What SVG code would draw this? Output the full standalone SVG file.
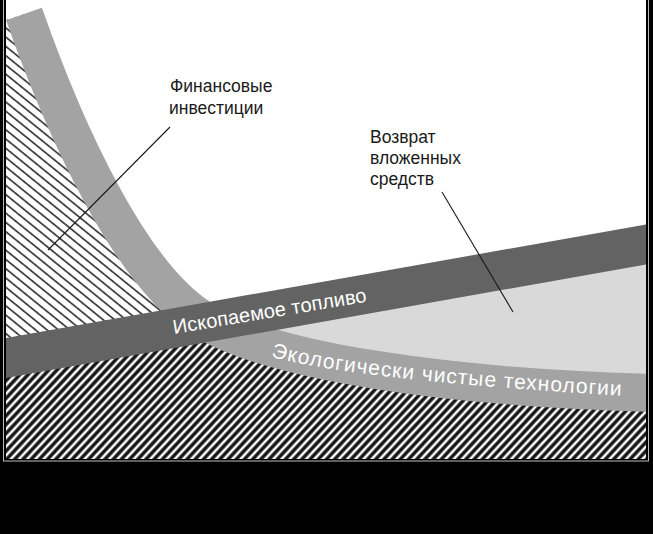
<svg xmlns="http://www.w3.org/2000/svg" width="653" height="534" viewBox="0 0 653 534">
  <defs>
    <style>
      .label { font-family: "Liberation Sans", Arial, sans-serif; font-size: 17.5px; fill: #1a1a1a; }
      .bandtext { font-family: "Liberation Sans", Arial, sans-serif; fill: #fff; }
      .leader { stroke: #1a1a1a; stroke-width: 1.1; fill: none; }
    </style>
    <clipPath id="plot">
      <rect x="6" y="0" width="640" height="459"/>
    </clipPath>
    <pattern id="thinHatch" patternUnits="userSpaceOnUse" width="10" height="7.2" patternTransform="rotate(39)">
      <rect width="10" height="7.2" fill="#fff"/>
      <line x1="-1" y1="3.6" x2="11" y2="3.6" stroke="#111" stroke-width="1.4"/>
    </pattern>
    <pattern id="boldHatch" patternUnits="userSpaceOnUse" width="10" height="6" patternTransform="rotate(-47)">
      <rect width="10" height="6" fill="#111"/>
      <line x1="-1" y1="3" x2="11" y2="3" stroke="#fff" stroke-width="2.6"/>
    </pattern>
    <path id="ecoPath" d="M 271,357 C 340,374 450,386 660,398"/>
  </defs>

  <rect x="0" y="0" width="653" height="534" fill="#000"/>
  <rect x="3.5" y="-1" width="645" height="462" fill="none" stroke="#bdbdbd" stroke-width="1"/>
  <rect x="6" y="0" width="640" height="459" fill="#fff"/>

  <g clip-path="url(#plot)">
    <g id="area-upper-hatch">
      <path d="M 6,20 L 24,14 C 66,134 130,272.5 200,318 L 6,360 Z" fill="url(#thinHatch)"/>
    </g>
    <g id="area-lower-hatch">
      <path d="M 6,360 L 200,318 C 270,362 450,388 650,393 L 650,465 L 6,465 Z" fill="url(#boldHatch)"/>
    </g>
    <g id="area-return">
      <path d="M 200,318 C 270,362 450,388 650,393 L 650,243 L 200,323 Z" fill="#d9d9d9"/>
    </g>
    <g id="band-green">
      <path d="M 24,14 C 66,134 130,272.5 200,318 C 270,362 450,388 660,393" fill="none" stroke="#a3a3a3" stroke-width="38"/>
      <text class="bandtext" font-size="21" letter-spacing="1"><textPath href="#ecoPath">Экологически чистые технологии</textPath></text>
    </g>
    <g id="band-fossil">
      <polygon points="0,339 660,222 660,262 0,379" fill="#636363"/>
      <text class="bandtext" font-size="20" x="174" y="334" textLength="196" lengthAdjust="spacing" transform="rotate(-9.5 174 334)">Ископаемое топливо</text>
    </g>
  </g>

  <g id="connectors">
    <line class="leader" x1="170" y1="127" x2="48" y2="250"/>
    <line class="leader" x1="442" y1="192" x2="513" y2="312"/>
  </g>

  <g id="label-finance">
    <text class="label" x="170" y="92">Финансовые</text>
    <text class="label" x="169" y="114">инвестиции</text>
  </g>
  <g id="label-return">
    <text class="label" x="370" y="143">Возврат</text>
    <text class="label" x="370" y="164">вложенных</text>
    <text class="label" x="370" y="185">средств</text>
  </g>
</svg>
